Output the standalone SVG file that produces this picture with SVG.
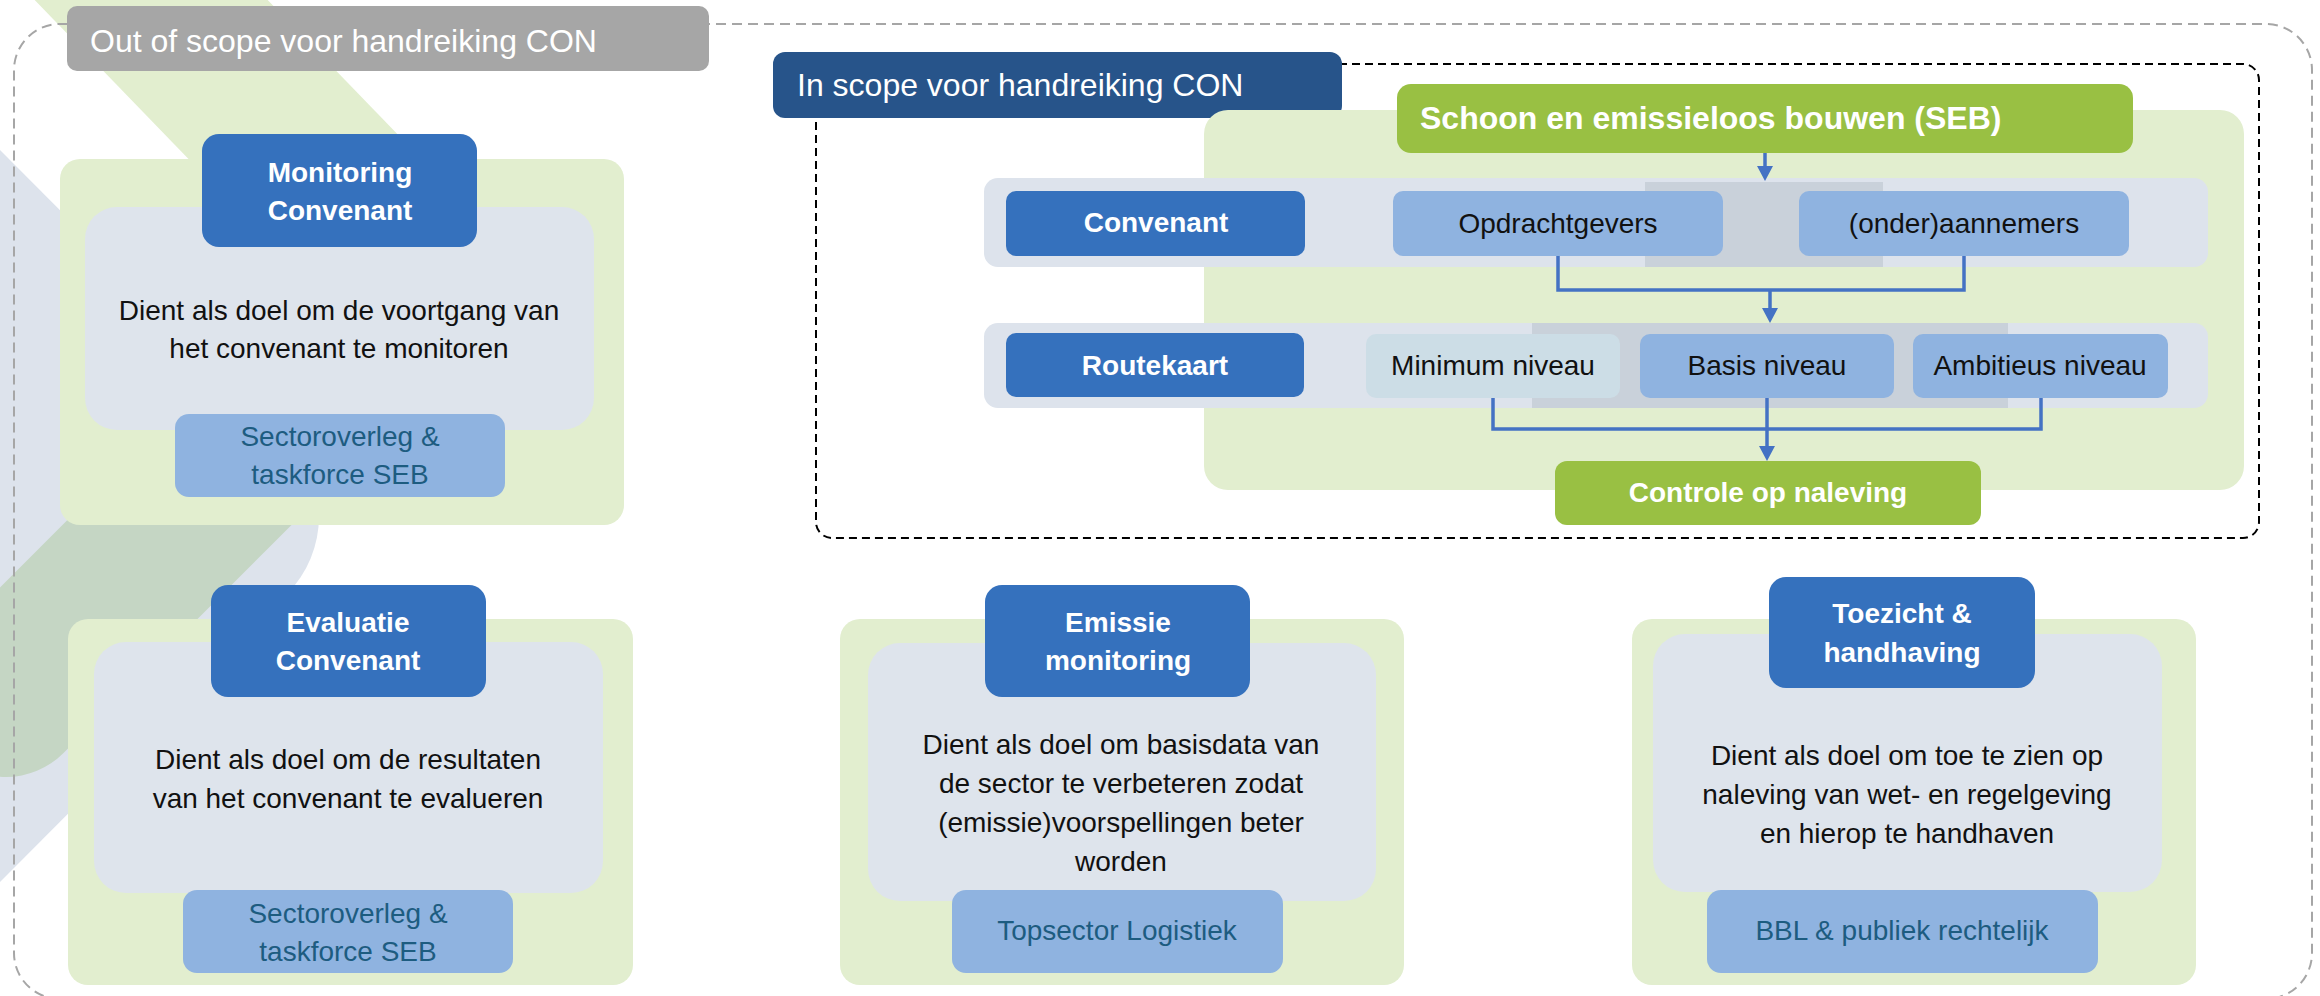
<svg xmlns="http://www.w3.org/2000/svg" width="2320" height="996" viewBox="0 0 2320 996">
  <defs>
    <style>
      text { font-family: "Liberation Sans", Arial, sans-serif; }
      .hdr { font-size: 32px; fill: #ffffff; }
      .ttl { font-size: 28px; font-weight: bold; fill: #ffffff; text-anchor: middle; }
      .dsc { font-size: 28px; fill: #111111; text-anchor: middle; }
      .sml { font-size: 28px; fill: #1d5c80; text-anchor: middle; }
      .cell { font-size: 28px; fill: #111111; text-anchor: middle; }
      .card-bg { fill: #e2eecf; }
      .card-in { fill: #dee4ec; }
      .blue { fill: #3571bd; }
      .lblue { fill: #8fb3e0; }
      .green { fill: #99c043; }
      .conn { fill: none; stroke: #4472c4; stroke-width: 3.5; }
    </style>
    <marker id="arr" markerUnits="userSpaceOnUse" markerWidth="16" markerHeight="16" viewBox="0 0 15 16" refX="5" refY="8" orient="auto">
      <path d="M0,0 L15,8 L0,16 Z" fill="#4472c4"/>
    </marker>
  </defs>

  <!-- background decoration -->
  <g id="decor">
    <polygon points="25,-10 258,-10 558,300 325,300" fill="#e2eecf"/>
    <path d="M-10,140 L287,438 A111,111 0 0 1 287,594 L-10,892 Z" fill="#dde3ec"/>
    <line x1="400" y1="302" x2="6" y2="696" stroke="#c5d6c4" stroke-width="162" stroke-linecap="round"/>
  </g>

  <!-- outer scope frame -->
  <rect id="out-scope-frame" x="14" y="24" width="2298" height="975" rx="46" fill="none" stroke="#a6a6a6" stroke-width="2" stroke-dasharray="10 6"/>

  <g id="out-scope-label">
    <rect x="67" y="6" width="642" height="65" rx="10" fill="#a6a6a6"/>
    <text class="hdr" x="90" y="52">Out of scope voor handreiking CON</text>
  </g>

  <!-- in scope frame -->
  <rect id="in-scope-frame" x="816" y="64" width="1443" height="474" rx="16" fill="none" stroke="#000000" stroke-width="2" stroke-dasharray="8 5"/>

  <g id="in-scope-label">
    <rect x="773" y="52" width="569" height="66" rx="12" fill="#27548a"/>
    <text class="hdr" x="797" y="96">In scope voor handreiking CON</text>
  </g>

  <!-- in-scope process panel -->
  <rect id="process-bg" x="1204" y="110" width="1040" height="380" rx="24" fill="#e2eecf"/>

  <g id="row-convenant">
    <rect x="984" y="178" width="1224" height="89" rx="14" fill="#dde3ec"/>
    <rect x="1645" y="182" width="238" height="85" fill="#c9d1da"/>
  </g>
  <g id="row-routekaart">
    <rect x="984" y="323" width="1224" height="85" rx="14" fill="#dde3ec"/>
    <rect x="1532" y="323" width="476" height="85" fill="#c9d1da"/>
  </g>

  <g id="seb">
    <rect class="green" x="1397" y="84" width="736" height="69" rx="14"/>
    <text x="1420" y="129" font-size="32" font-weight="bold" fill="#ffffff">Schoon en emissieloos bouwen (SEB)</text>
  </g>

  <g id="convenant">
    <rect class="blue" x="1006" y="191" width="299" height="65" rx="10"/>
    <text class="ttl" x="1156" y="232">Convenant</text>
  </g>
  <g id="opdrachtgevers">
    <rect class="lblue" x="1393" y="191" width="330" height="65" rx="10"/>
    <text class="cell" x="1558" y="233">Opdrachtgevers</text>
  </g>
  <g id="aannemers">
    <rect class="lblue" x="1799" y="191" width="330" height="65" rx="10"/>
    <text class="cell" x="1964" y="233">(onder)aannemers</text>
  </g>

  <g id="routekaart">
    <rect class="blue" x="1006" y="333" width="298" height="64" rx="10"/>
    <text class="ttl" x="1155" y="375">Routekaart</text>
  </g>
  <g id="minimum">
    <rect x="1366" y="334" width="254" height="64" rx="10" fill="#ccdde6"/>
    <text class="cell" x="1493" y="375">Minimum niveau</text>
  </g>
  <g id="basis">
    <rect class="lblue" x="1640" y="334" width="254" height="64" rx="10"/>
    <text class="cell" x="1767" y="375">Basis niveau</text>
  </g>
  <g id="ambitieus">
    <rect class="lblue" x="1913" y="334" width="255" height="64" rx="10"/>
    <text class="cell" x="2040" y="375">Ambitieus niveau</text>
  </g>

  <g id="controle">
    <rect class="green" x="1555" y="461" width="426" height="64" rx="12"/>
    <text class="ttl" x="1768" y="502">Controle op naleving</text>
  </g>

  <!-- connectors -->
  <g id="connectors">
    <path class="conn" d="M1765,153 V171" marker-end="url(#arr)"/>
    <path class="conn" d="M1558,256 V290 H1964 V256"/>
    <path class="conn" d="M1770,290 V313" marker-end="url(#arr)"/>
    <path class="conn" d="M1493,398 V429 H2041 V398"/>
    <path class="conn" d="M1767,398 V451" marker-end="url(#arr)"/>
  </g>

  <!-- cards -->
  <g id="monitoring-convenant">
    <rect class="card-bg" x="60" y="159" width="564" height="366" rx="20"/>
    <rect class="card-in" x="85" y="207" width="509" height="223" rx="32"/>
    <rect class="blue" x="202" y="134" width="275" height="113" rx="17"/>
    <text class="ttl" x="340" y="182">Monitoring</text>
    <text class="ttl" x="340" y="220">Convenant</text>
    <text class="dsc" x="339" y="320">Dient als doel om de voortgang van</text>
    <text class="dsc" x="339" y="358">het convenant te monitoren</text>
    <rect class="lblue" x="175" y="414" width="330" height="83" rx="14"/>
    <text class="sml" x="340" y="446">Sectoroverleg &amp;</text>
    <text class="sml" x="340" y="484">taskforce SEB</text>
  </g>

  <g id="evaluatie-convenant">
    <rect class="card-bg" x="68" y="619" width="565" height="366" rx="20"/>
    <rect class="card-in" x="94" y="642" width="509" height="251" rx="32"/>
    <rect class="blue" x="211" y="585" width="275" height="112" rx="17"/>
    <text class="ttl" x="348" y="632">Evaluatie</text>
    <text class="ttl" x="348" y="670">Convenant</text>
    <text class="dsc" x="348" y="769">Dient als doel om de resultaten</text>
    <text class="dsc" x="348" y="808">van het convenant te evalueren</text>
    <rect class="lblue" x="183" y="890" width="330" height="83" rx="14"/>
    <text class="sml" x="348" y="923">Sectoroverleg &amp;</text>
    <text class="sml" x="348" y="961">taskforce SEB</text>
  </g>

  <g id="emissie-monitoring">
    <rect class="card-bg" x="840" y="619" width="564" height="366" rx="20"/>
    <rect class="card-in" x="868" y="643" width="508" height="258" rx="32"/>
    <rect class="blue" x="985" y="585" width="265" height="112" rx="17"/>
    <text class="ttl" x="1118" y="632">Emissie</text>
    <text class="ttl" x="1118" y="670">monitoring</text>
    <text class="dsc" x="1121" y="754">Dient als doel om basisdata van</text>
    <text class="dsc" x="1121" y="793">de sector te verbeteren zodat</text>
    <text class="dsc" x="1121" y="832">(emissie)voorspellingen beter</text>
    <text class="dsc" x="1121" y="871">worden</text>
    <rect class="lblue" x="952" y="890" width="331" height="83" rx="14"/>
    <text class="sml" x="1117" y="940">Topsector Logistiek</text>
  </g>

  <g id="toezicht-handhaving">
    <rect class="card-bg" x="1632" y="619" width="564" height="366" rx="20"/>
    <rect class="card-in" x="1653" y="634" width="509" height="258" rx="32"/>
    <rect class="blue" x="1769" y="577" width="266" height="111" rx="17"/>
    <text class="ttl" x="1902" y="623">Toezicht &amp;</text>
    <text class="ttl" x="1902" y="662">handhaving</text>
    <text class="dsc" x="1907" y="765">Dient als doel om toe te zien op</text>
    <text class="dsc" x="1907" y="804">naleving van wet- en regelgeving</text>
    <text class="dsc" x="1907" y="843">en hierop te handhaven</text>
    <rect class="lblue" x="1707" y="890" width="391" height="83" rx="14"/>
    <text class="sml" x="1902" y="940">BBL &amp; publiek rechtelijk</text>
  </g>
</svg>
